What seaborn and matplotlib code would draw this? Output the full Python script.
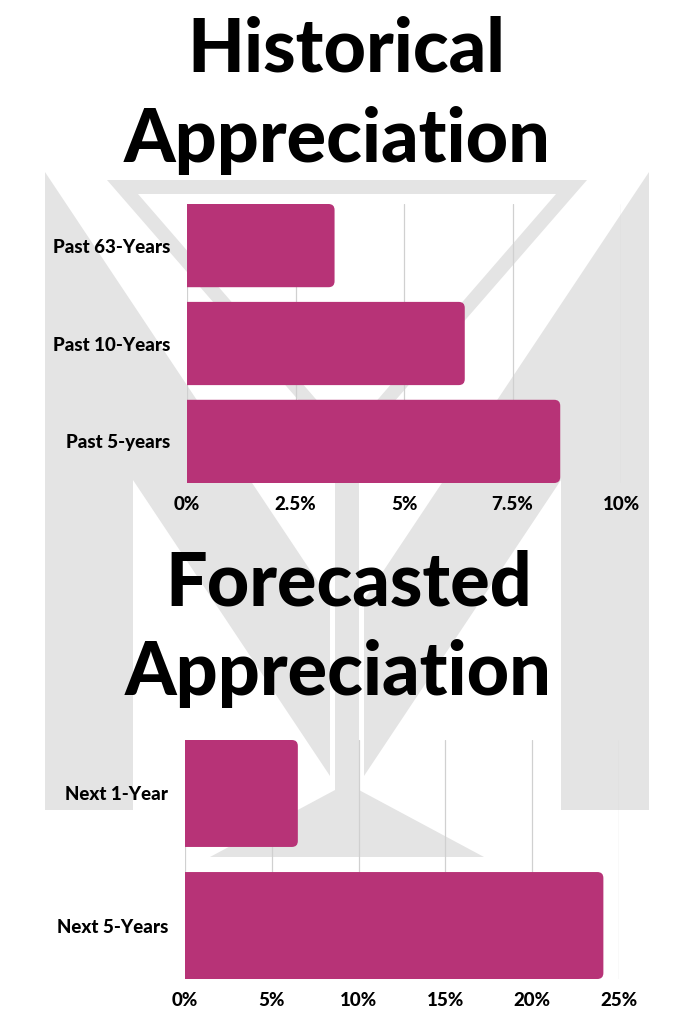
import matplotlib
matplotlib.use("Agg")
import matplotlib.pyplot as plt
import seaborn as sns
import numpy as np
from matplotlib.patches import Polygon, Rectangle, FancyBboxPatch

# ---- data ----
hist_labels = ["Past 63-Years", "Past 10-Years", "Past 5-years"]
hist_values = [3.4, 6.4, 8.6]
hist_ticks = [0, 2.5, 5, 7.5, 10]
hist_ticklabels = ["0%", "2.5%", "5%", "7.5%", "10%"]

fore_labels = ["Next 1-Year", "Next 5-Years"]
fore_values = [6.5, 24.1]
fore_ticks = [0, 5, 10, 15, 20, 25]
fore_ticklabels = ["0%", "5%", "10%", "15%", "20%", "25%"]

BAR = "#b73377"
GRAY = "#e4e4e4"
GRID = "#d0d0d0"

sns.set_theme(style="white")
plt.rcParams["font.family"] = ["Lato", "DejaVu Sans"]

W, H = 683, 1024
fig = plt.figure(figsize=(W / 100, H / 100), dpi=100)
fig.patch.set_facecolor("white")

def rect(l, t, r, b):
    return [l / W, 1 - b / H, (r - l) / W, (b - t) / H]

# ---- background watermark (decoration) ----
bg = fig.add_axes([0, 0, 1, 1], zorder=0)
bg.set_xlim(0, W)
bg.set_ylim(H, 0)
bg.axis("off")

def mirror(pts):
    return [(694 - x, y) for x, y in pts]

left_M = [(45, 172), (330, 600), (330, 776), (133, 480), (133, 810), (45, 810)]
for pts in (left_M, mirror(left_M)):
    bg.add_patch(Polygon(pts, closed=True, fc=GRAY, ec="none"))
# glass
bg.add_patch(Polygon([(107, 180), (587, 180), (347, 456)], closed=True, fc=GRAY, ec="none"))
bg.add_patch(Polygon([(138, 194), (556, 194), (347, 435)], closed=True, fc="white", ec="none"))
# stem and foot
bg.add_patch(Rectangle((335, 440), 24, 352, fc=GRAY, ec="none"))
bg.add_patch(Polygon([(210, 857), (484, 857), (359, 790), (335, 790)], closed=True, fc=GRAY, ec="none"))

# ---- titles ----
title_kw = dict(ha="center", va="baseline", fontsize=53, fontweight=900, color="black")
fig.text(346 / W, 1 - 71 / H, "Historical", **title_kw)
fig.text(337 / W, 1 - 162 / H, "Appreciation", **title_kw)
fig.text(349 / W, 1 - 605 / H, "Forecasted", **title_kw)
fig.text(338 / W, 1 - 695 / H, "Appreciation", **title_kw)

def draw_chart(ax, labels, values, ticks, ticklabels, width, radius_px):
    ax.patch.set_alpha(0)
    sns.barplot(x=values, y=labels, ax=ax, color=BAR, saturation=1, width=width, orient="h")
    n = len(labels)
    ax.set_xlim(ticks[0], ticks[-1])
    ax.set_ylim(n - 1 + 0.5 * width, -0.5 * width)
    ax.set_xticks(ticks)
    ax.set_xticklabels(ticklabels)
    ax.xaxis.grid(True, color=GRID, lw=0.9)
    ax.yaxis.grid(False)
    ax.set_axisbelow(True)
    for s in ax.spines.values():
        s.set_visible(False)
    ax.tick_params(axis="both", length=0, labelsize=13.5, labelcolor="black")
    ax.tick_params(axis="x", pad=9)
    ax.tick_params(axis="y", pad=12)
    for t in ax.get_xticklabels() + ax.get_yticklabels():
        t.set_fontweight(900)
    ax.set_xlabel("")
    ax.set_ylabel("")
    # rounded right corners
    fig.canvas.draw()
    inv = ax.transData.inverted()
    p0 = inv.transform((0, 0))
    p1 = inv.transform((1, 1))
    xu = abs(p1[0] - p0[0])
    yu = abs(p1[1] - p0[1])
    r = radius_px * xu
    for p in list(ax.patches):
        x0, y0 = p.get_x(), p.get_y()
        w, h = p.get_width(), p.get_height()
        p.set_visible(False)
        fb = FancyBboxPatch((x0 - 2 * r, y0), w + 2 * r, h,
                            boxstyle=f"round,pad=0,rounding_size={r}",
                            mutation_aspect=yu / xu, fc=BAR, ec="none", zorder=2)
        ax.add_patch(fb)
        fb.set_clip_path(ax.patch)

ax1 = fig.add_axes(rect(187, 204, 621, 483), zorder=1)
draw_chart(ax1, hist_labels, hist_values, hist_ticks, hist_ticklabels, 0.85, 6)

ax2 = fig.add_axes(rect(185, 740, 619, 979), zorder=1)
draw_chart(ax2, fore_labels, fore_values, fore_ticks, fore_ticklabels, 0.81, 6)

fig.savefig("out.png", dpi=100, facecolor="white")
